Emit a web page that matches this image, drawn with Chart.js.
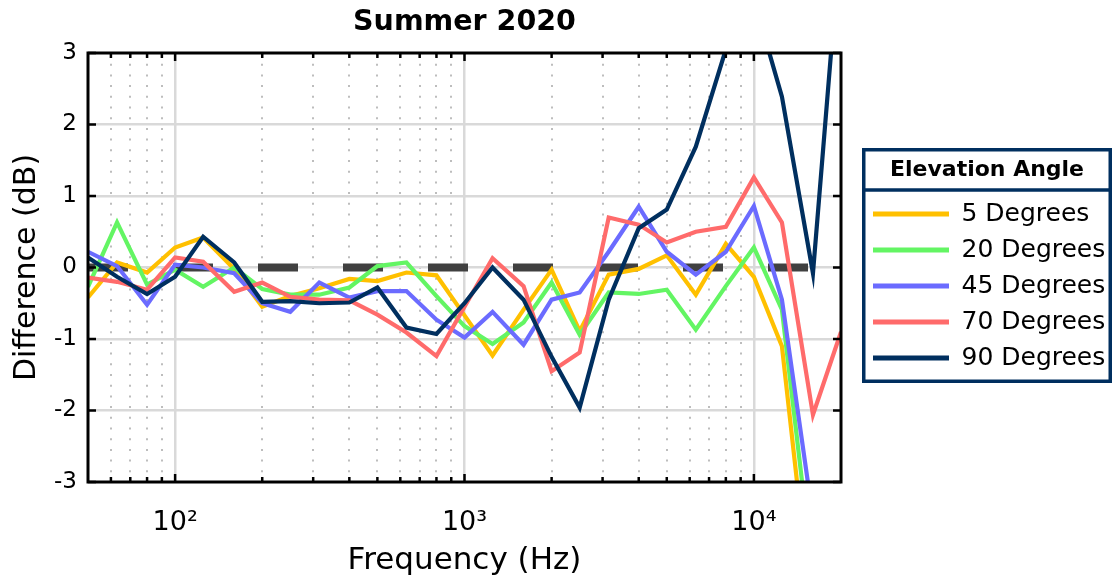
<!DOCTYPE html>
<html><head><meta charset="utf-8">
<script src="https://cdn.jsdelivr.net/npm/chart.js@4.4.0/dist/chart.umd.min.js"></script>
<style>html,body{margin:0;padding:0;background:#fff;overflow:hidden}canvas{display:block}</style>
</head><body>
<canvas id="c" width="1114" height="584"></canvas>
<script>
// ---- data ----
const freqs = [50,63,80,100,125,160,200,250,315,400,500,630,800,1000,1250,1600,2000,2500,3150,4000,5000,6300,8000,10000,12500,16000,20000];
const deg5  = [-0.42,0.07,-0.07,0.28,0.42,-0.02,-0.55,-0.40,-0.29,-0.16,-0.19,-0.07,-0.11,-0.67,-1.23,-0.59,-0.03,-0.89,-0.10,-0.02,0.17,-0.38,0.33,-0.13,-1.10,-5.0,-6.0];
const deg20 = [-0.27,0.63,-0.24,-0.03,-0.27,0.00,-0.30,-0.38,-0.38,-0.28,0.02,0.07,-0.40,-0.82,-1.07,-0.77,-0.21,-0.94,-0.35,-0.37,-0.31,-0.87,-0.26,0.28,-0.59,-4.3,-6.0];
const deg45 = [0.22,0.02,-0.52,0.04,0.00,-0.08,-0.50,-0.62,-0.21,-0.42,-0.33,-0.33,-0.73,-0.98,-0.62,-1.08,-0.45,-0.35,0.22,0.85,0.22,-0.10,0.22,0.86,-0.45,-3.5,-6.0];
const deg70 = [-0.14,-0.20,-0.31,0.14,0.08,-0.34,-0.21,-0.41,-0.45,-0.46,-0.66,-0.91,-1.24,-0.55,0.13,-0.26,-1.45,-1.19,0.70,0.60,0.35,0.50,0.57,1.26,0.63,-2.06,-0.90];
const deg90 = [0.14,-0.13,-0.37,-0.13,0.43,0.07,-0.48,-0.47,-0.50,-0.49,-0.28,-0.84,-0.93,-0.50,0.00,-0.45,-1.25,-1.96,-0.45,0.55,0.81,1.69,3.05,3.75,2.39,-0.08,4.7];
const seriesNames  = ['5 Degrees','20 Degrees','45 Degrees','70 Degrees','90 Degrees'];
const seriesColors = ['#FFC000','#63F563','#6B6BFF','#FF6B6B','#002F5F'];
const refFreqs = [50,20000];
const refLine  = [0,0];
const yTicks = [-3,-2,-1,0,1,2,3];
const xMajorTicks = [100,1000,10000];
const xTickLabels = ['10\u00B2','10\u00B3','10\u2074'];
const xMinorTicks = [60,70,80,90,200,300,400,500,600,700,800,900,2000,3000,4000,5000,6000,7000,8000,9000];

Chart.defaults.font.family = "'DejaVu Sans', sans-serif";
Chart.defaults.color = '#000';

const allSeries = [deg5,deg20,deg45,deg70,deg90];
const datasets = allSeries.map((vals,i)=>({
  label: seriesNames[i],
  data: freqs.map((f,k)=>({x:f,y:vals[k]})),
  borderColor: seriesColors[i],
  backgroundColor: seriesColors[i],
  borderWidth: 4.2,
  pointRadius: 0,
  tension: 0,
  fill: false,
  clip: 0,
  order: 5 - i
}));
datasets.push({
  label: 'ref',
  data: refFreqs.map((f,k)=>({x:f,y:refLine[k]})),
  borderColor: '#404040',
  backgroundColor: '#404040',
  borderWidth: 8,
  borderDash: [40,45],
  borderCapStyle: 'butt',
  pointRadius: 0,
  fill: false,
  clip: 0,
  order: 10
});

const framePlugin = {
  id: 'frame',
  beforeLayout(chart){
    const lg = chart.legend;
    if (lg && !lg._fx){
      const f = lg.fit.bind(lg);
      lg.fit = function(){ f(); this.width = 273; };
      lg._fx = true;
    }
  },
  afterLayout(chart){
    const lg = chart.legend, a = chart.chartArea;
    lg.left = a.right + 21; lg.width = 250; lg.right = lg.left + 250;
    lg.top = 148; lg.height = 235; lg.bottom = 383;
  },
  afterDatasetsDraw(chart){
    const {ctx, chartArea:a, scales} = chart;
    ctx.save();
    ctx.strokeStyle = '#000';
    ctx.lineWidth = 2.5;
    ctx.beginPath();
    yTicks.forEach(v=>{
      const y = scales.y.getPixelForValue(v);
      ctx.moveTo(a.left, y); ctx.lineTo(a.left+8, y);
      ctx.moveTo(a.right, y); ctx.lineTo(a.right-8, y);
    });
    xMajorTicks.forEach(v=>{
      const x = scales.x.getPixelForValue(v);
      ctx.moveTo(x, a.bottom); ctx.lineTo(x, a.bottom-8);
      ctx.moveTo(x, a.top); ctx.lineTo(x, a.top+8);
    });
    xMinorTicks.forEach(v=>{
      const x = scales.x.getPixelForValue(v);
      ctx.moveTo(x, a.bottom); ctx.lineTo(x, a.bottom-5);
      ctx.moveTo(x, a.top); ctx.lineTo(x, a.top+5);
    });
    ctx.stroke();
    ctx.lineWidth = 3;
    ctx.strokeRect(a.left, a.top, a.right-a.left, a.bottom-a.top);
    ctx.restore();
  },
  afterDraw(chart){
    const {ctx} = chart, lg = chart.legend;
    ctx.save();
    ctx.strokeStyle = '#002F5F';
    ctx.lineWidth = 3.5;
    ctx.strokeRect(lg.left+1.75, lg.top+1.75, lg.width-3.5, lg.height-3.5);
    ctx.beginPath();
    ctx.moveTo(lg.left, lg.top+42); ctx.lineTo(lg.right, lg.top+42);
    ctx.stroke();
    ctx.restore();
  }
};

new Chart(document.getElementById('c'), {
  type: 'line',
  data: { datasets },
  plugins: [framePlugin],
  options: {
    responsive: false,
    animation: false,
    devicePixelRatio: 1,
    layout: { padding: { left: 0, right: 0, top: 0, bottom: 4 } },
    plugins: {
      tooltip: { enabled: false },
      title: {
        display: true, text: 'Summer 2020', fullSize: false, color: '#000',
        font: { size: 28.5, weight: 'bold' },
        padding: { top: 5, bottom: 13.8 }
      },
      legend: {
        display: true, position: 'right', align: 'start', fullSize: false,
        title: { display: true, text: 'Elevation Angle', color: '#000',
                 font: { size: 22, weight: 'bold' }, padding: { top: 11, bottom: 5.1 } },
        labels: {
          color: '#000', font: { size: 25 }, boxWidth: 76, boxHeight: 5, padding: 11,
          filter: item => item.text !== 'ref',
          sort: (a,b) => a.datasetIndex - b.datasetIndex,
          generateLabels(chart){
            return Chart.defaults.plugins.legend.labels.generateLabels(chart).map(it=>{
              it.lineWidth = 0; it.fillStyle = it.strokeStyle; it.lineDash = []; return it;
            });
          }
        }
      }
    },
    scales: {
      x: {
        type: 'logarithmic', position: 'bottom', min: 50, max: 20000,
        afterBuildTicks: s => { s.ticks = xMajorTicks.map(v=>({value:v})); },
        afterFit: s => { s.height = 98; },
        ticks: {
          autoSkip: false, maxRotation: 0, minRotation: 0, padding: 25,
          font: { size: 27 }, color: '#000',
          callback: v => { const i = xMajorTicks.indexOf(v); return i >= 0 ? xTickLabels[i] : ''; }
        },
        grid: { color: '#d9d9d9', lineWidth: 2.5, drawTicks: false },
        border: { display: false },
        title: { display: true, text: 'Frequency (Hz)', font: { size: 31 }, color: '#000', padding: { top: 0, bottom: 0 } }
      },
      x2: {
        type: 'logarithmic', position: 'bottom', min: 50, max: 20000,
        afterBuildTicks: s => { s.ticks = xMinorTicks.map(v=>({value:v})); },
        afterFit: s => { s.height = 0; },
        ticks: { display: false },
        grid: { color: '#bdbdbd', lineWidth: 2, drawTicks: false },
        border: { display: false, dash: [2, 8.7] }
      },
      y: {
        type: 'linear', position: 'left', min: -3, max: 3,
        afterBuildTicks: s => { s.ticks = yTicks.map(v=>({value:v})); },
        afterFit: s => { s.width = 88; },
        ticks: { padding: 11, font: { size: 23 }, color: '#000', callback: v => String(v) },
        grid: { color: c => (c.tick && (c.tick.value === -3 || c.tick.value === 3)) ? 'rgba(0,0,0,0)' : '#d9d9d9', lineWidth: 2.5, drawTicks: false },
        border: { display: false },
        title: { display: true, text: 'Difference (dB)', font: { size: 30 }, color: '#000', padding: { top: 9, bottom: 0 } }
      }
    }
  }
});
</script>
</body></html>
